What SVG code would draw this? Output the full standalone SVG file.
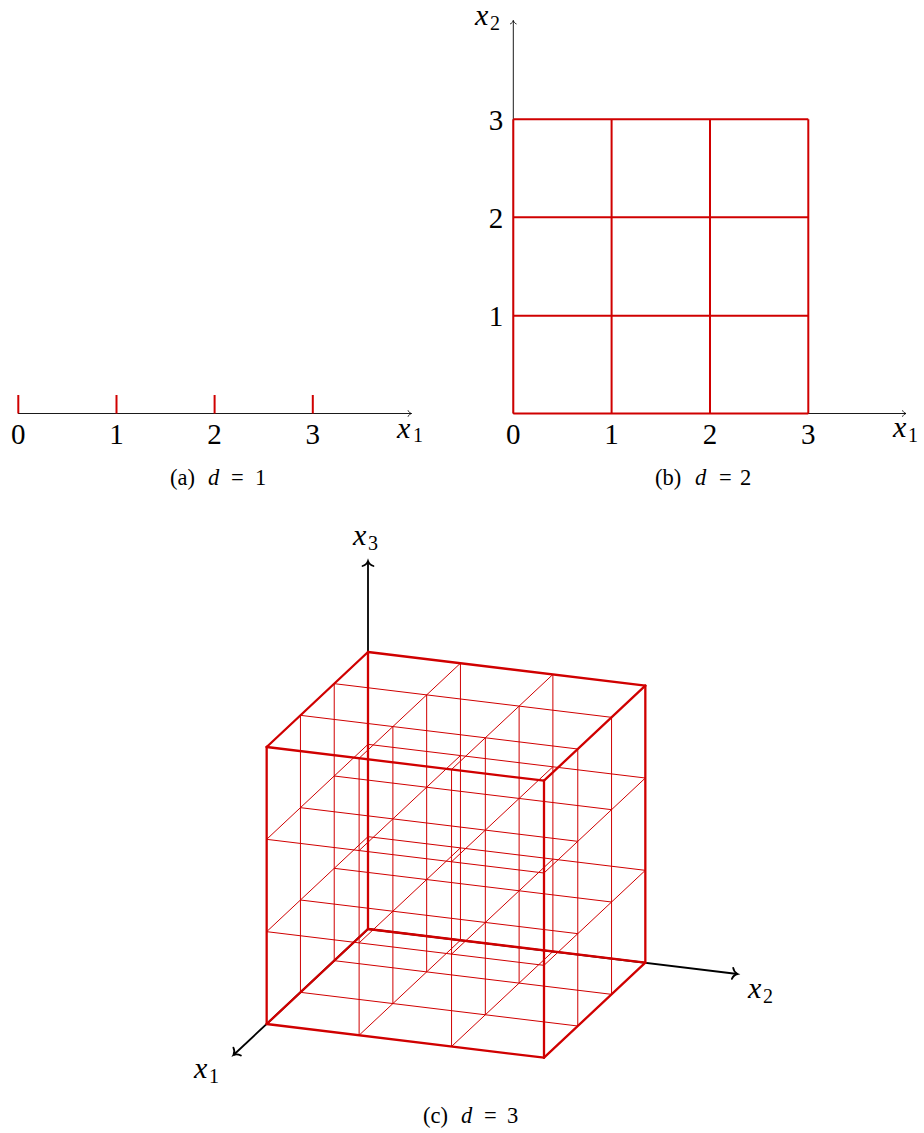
<svg xmlns="http://www.w3.org/2000/svg" width="924" height="1133" viewBox="0 0 924 1133">
<defs>
<marker id="ah" markerUnits="userSpaceOnUse" markerWidth="12" markerHeight="12" refX="0" refY="0" viewBox="-6 -6 12 12" orient="auto" overflow="visible">
<path d="M-3.5,-3.2 C-2.8,-1.3 -1,-0.3 0,0 C-1,0.3 -2.8,1.3 -3.5,3.2" fill="none" stroke="#000" stroke-width="0.9"/>
</marker>
<marker id="ah3" markerUnits="userSpaceOnUse" markerWidth="16" markerHeight="16" refX="0" refY="0" viewBox="-8 -8 16 16" orient="auto" overflow="visible">
<path d="M-5,-5.5 C-4,-2.2 -1.5,-0.5 0,0 C-1.5,0.5 -4,2.2 -5,5.5" fill="none" stroke="#000" stroke-width="1.8" stroke-linecap="round"/>
</marker>
</defs>

<g font-family="Liberation Serif, serif" fill="#000">

<!-- (a) d = 1 -->
<g id="panel-a">
<g id="a-connectors" stroke="#000" stroke-width="0.9" fill="none">
<line x1="18" y1="413.5" x2="411.5" y2="413.5" marker-end="url(#ah)"/>
</g>
<g id="a-ticks" stroke="#d00000" stroke-width="2" fill="none">
<line x1="18.3" y1="395" x2="18.3" y2="413.5"/>
<line x1="116.5" y1="395" x2="116.5" y2="413.5"/>
<line x1="214.6" y1="395" x2="214.6" y2="413.5"/>
<line x1="312.8" y1="395" x2="312.8" y2="413.5"/>
</g>
<g id="a-labels" text-anchor="middle" font-size="29">
<text x="18.3" y="444">0</text>
<text x="116.5" y="444">1</text>
<text x="214.6" y="444">2</text>
<text x="312.8" y="444">3</text>
</g>
<g id="a-axis-label">
<text font-size="30" font-style="italic" x="397" y="438">x</text>
<text font-size="20" x="413" y="442">1</text>
</g>
<text id="caption-a" font-size="22.5" y="485"><tspan x="170">(a) </tspan><tspan x="208" font-style="italic">d </tspan><tspan x="231">= </tspan><tspan x="255">1</tspan></text>
</g>

<!-- (b) d = 2 -->
<g id="panel-b">
<g id="b-connectors" stroke="#000" stroke-width="0.9" fill="none">
<line x1="513.3" y1="413.5" x2="906" y2="413.5" marker-end="url(#ah)"/>
<line x1="513.3" y1="413.5" x2="513.3" y2="20.5" marker-end="url(#ah)"/>
</g>
<g id="b-grid" stroke="#d00000" stroke-width="2" fill="none">
<line x1="513.3" y1="413.5" x2="808.3" y2="413.5"/>
<line x1="513.3" y1="315.7" x2="808.3" y2="315.7"/>
<line x1="513.3" y1="217.3" x2="808.3" y2="217.3"/>
<line x1="513.3" y1="119.3" x2="808.3" y2="119.3"/>
<line x1="513.3" y1="413.5" x2="513.3" y2="119.3"/>
<line x1="611.6" y1="413.5" x2="611.6" y2="119.3"/>
<line x1="710" y1="413.5" x2="710" y2="119.3"/>
<line x1="808.3" y1="413.5" x2="808.3" y2="119.3"/>
</g>
<g id="b-xlabels" text-anchor="middle" font-size="29">
<text x="513.3" y="444">0</text>
<text x="611.6" y="444">1</text>
<text x="710" y="444">2</text>
<text x="808.3" y="444">3</text>
</g>
<g id="b-ylabels" text-anchor="middle" font-size="29">
<text x="496" y="326">1</text>
<text x="496" y="228">2</text>
<text x="496" y="130">3</text>
</g>
<g id="b-axis-labels">
<text font-size="30" font-style="italic" x="893" y="437">x</text>
<text font-size="20" x="908" y="442">1</text>
<text font-size="30" font-style="italic" x="475" y="25">x</text>
<text font-size="20" x="490" y="30">2</text>
</g>
<text id="caption-b" font-size="22.5" y="485"><tspan x="655">(b) </tspan><tspan x="695" font-style="italic">d </tspan><tspan x="719">= </tspan><tspan x="740">2</tspan></text>
</g>

<!-- (c) d = 3 -->
<g id="panel-c">
<g id="c-connectors" stroke="#000" stroke-width="1.8" fill="none">
<line x1="368" y1="929" x2="368" y2="561" marker-end="url(#ah3)"/>
<line x1="368" y1="929" x2="737.5" y2="974" marker-end="url(#ah3)"/>
<line x1="368" y1="929" x2="233.5" y2="1055" marker-end="url(#ah3)"/>
</g>
<g id="c-lattice" stroke="#d00000" stroke-width="1" fill="none">
<line x1="368" y1="836.67" x2="266.67" y2="931.67"/>
<line x1="368" y1="744.33" x2="266.67" y2="839.33"/>
<line x1="460.44" y1="940.22" x2="359.11" y2="1035.22"/>
<line x1="460.44" y1="847.89" x2="359.11" y2="942.89"/>
<line x1="460.44" y1="755.56" x2="359.11" y2="850.56"/>
<line x1="460.44" y1="663.22" x2="359.11" y2="758.22"/>
<line x1="552.89" y1="951.44" x2="451.56" y2="1046.44"/>
<line x1="552.89" y1="859.11" x2="451.56" y2="954.11"/>
<line x1="552.89" y1="766.78" x2="451.56" y2="861.78"/>
<line x1="552.89" y1="674.44" x2="451.56" y2="769.44"/>
<line x1="645.33" y1="870.33" x2="544" y2="965.33"/>
<line x1="645.33" y1="778" x2="544" y2="873"/>
<line x1="368" y1="836.67" x2="645.33" y2="870.33"/>
<line x1="368" y1="744.33" x2="645.33" y2="778"/>
<line x1="334.22" y1="960.67" x2="611.56" y2="994.33"/>
<line x1="334.22" y1="868.33" x2="611.56" y2="902"/>
<line x1="334.22" y1="776" x2="611.56" y2="809.67"/>
<line x1="334.22" y1="683.67" x2="611.56" y2="717.33"/>
<line x1="300.44" y1="992.33" x2="577.78" y2="1026"/>
<line x1="300.44" y1="900" x2="577.78" y2="933.67"/>
<line x1="300.44" y1="807.67" x2="577.78" y2="841.33"/>
<line x1="300.44" y1="715.33" x2="577.78" y2="749"/>
<line x1="266.67" y1="931.67" x2="544" y2="965.33"/>
<line x1="266.67" y1="839.33" x2="544" y2="873"/>
<line x1="460.44" y1="940.22" x2="460.44" y2="663.22"/>
<line x1="552.89" y1="951.44" x2="552.89" y2="674.44"/>
<line x1="334.22" y1="960.67" x2="334.22" y2="683.67"/>
<line x1="426.67" y1="971.89" x2="426.67" y2="694.89"/>
<line x1="519.11" y1="983.11" x2="519.11" y2="706.11"/>
<line x1="611.56" y1="994.33" x2="611.56" y2="717.33"/>
<line x1="300.44" y1="992.33" x2="300.44" y2="715.33"/>
<line x1="392.89" y1="1003.56" x2="392.89" y2="726.56"/>
<line x1="485.33" y1="1014.78" x2="485.33" y2="737.78"/>
<line x1="577.78" y1="1026" x2="577.78" y2="749"/>
<line x1="359.11" y1="1035.22" x2="359.11" y2="758.22"/>
<line x1="451.56" y1="1046.44" x2="451.56" y2="769.44"/>
</g>
<g id="c-edges" stroke="#d00000" stroke-width="2.3" fill="none" stroke-linecap="round">
<line x1="368" y1="929" x2="266.67" y2="1024"/>
<line x1="368" y1="652" x2="266.67" y2="747"/>
<line x1="645.33" y1="962.67" x2="544" y2="1057.67"/>
<line x1="645.33" y1="685.67" x2="544" y2="780.67"/>
<line x1="368" y1="929" x2="645.33" y2="962.67"/>
<line x1="368" y1="652" x2="645.33" y2="685.67"/>
<line x1="266.67" y1="1024" x2="544" y2="1057.67"/>
<line x1="266.67" y1="747" x2="544" y2="780.67"/>
<line x1="368" y1="929" x2="368" y2="652"/>
<line x1="645.33" y1="962.67" x2="645.33" y2="685.67"/>
<line x1="266.67" y1="1024" x2="266.67" y2="747"/>
<line x1="544" y1="1057.67" x2="544" y2="780.67"/>
</g>
<g id="c-axis-labels">
<text font-size="30" font-style="italic" x="353" y="545">x</text>
<text font-size="20" x="368" y="550">3</text>
<text font-size="30" font-style="italic" x="748" y="998">x</text>
<text font-size="20" x="763" y="1003">2</text>
<text font-size="30" font-style="italic" x="194" y="1078">x</text>
<text font-size="20" x="209" y="1083">1</text>
</g>
<text id="caption-c" font-size="22.5" y="1123"><tspan x="423">(c) </tspan><tspan x="461" font-style="italic">d </tspan><tspan x="484">= </tspan><tspan x="507">3</tspan></text>
</g>

</g>
</svg>
